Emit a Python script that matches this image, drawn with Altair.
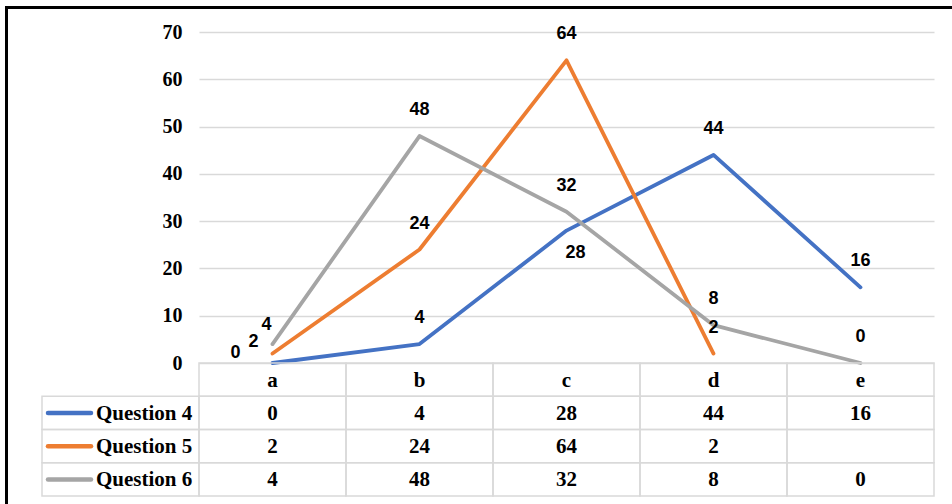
import altair as alt
import pandas as pd

categories = ["a", "b", "c", "d", "e"]
series_names = ["Question 4", "Question 5", "Question 6"]
question4 = [0, 4, 28, 44, 16]
question5 = [2, 24, 64, 2, None]
question6 = [4, 48, 32, 8, 0]
y_ticks = [0, 10, 20, 30, 40, 50, 60, 70]
colors = ["#4472C4", "#ED7D31", "#A5A5A5"]

all_series = [question4, question5, question6]

rows = []
for s, vals in zip(series_names, all_series):
    for c, v in zip(categories, vals):
        rows.append({"series": s, "cat": c, "value": v})
df = pd.DataFrame(rows)

header_row = "hdr"
table_rows = [header_row] + series_names
cells = []
for c in categories:
    cells.append({"row": header_row, "cat": c, "label": c})
for s, vals in zip(series_names, all_series):
    for c, v in zip(categories, vals):
        cells.append({"row": s, "cat": c, "label": "" if v is None else str(v)})
cells_df = pd.DataFrame(cells)
legend_df = pd.DataFrame({"row": series_names, "series": series_names})

color_enc = alt.Color("series:N", scale=alt.Scale(domain=series_names, range=colors), legend=None)

# ---------- line chart part ----------
x_line = alt.X("cat:N", scale=alt.Scale(type="point", domain=categories, padding=0.5), axis=None)
y_line = alt.Y(
    "value:Q",
    scale=alt.Scale(domain=[0, 70], range=[331, 0], nice=False),
    axis=alt.Axis(
        values=y_ticks, title=None, ticks=False, domain=False,
        labelFont="Liberation Serif", labelFontWeight="bold", labelFontSize=20,
        labelColor="black", labelPadding=17,
        gridColor="#d9d9d9", gridWidth=1.5,
    ),
)

base = alt.Chart(df)
lines = base.mark_line(strokeWidth=3.8, strokeCap="round", strokeJoin="round").encode(
    x=x_line, y=y_line, color=color_enc
)

def label_layer(filter_expr, dx, dy):
    return base.transform_filter(filter_expr).mark_text(
        font="Liberation Sans", fontWeight="bold", fontSize=18, color="black",
        dx=dx, dy=dy, baseline="middle", align="center"
    ).encode(x=x_line, y=y_line, text=alt.Text("value:Q", format="d"))

labels_default = label_layer(
    "isValid(datum.value) && datum.cat != 'a' && !(datum.series == 'Question 4' && datum.cat == 'c')",
    0, -26)
lab_q4_a = label_layer("datum.series == 'Question 4' && datum.cat == 'a'", -37, -10)
lab_q5_a = label_layer("datum.series == 'Question 5' && datum.cat == 'a'", -19, -12)
lab_q6_a = label_layer("datum.series == 'Question 6' && datum.cat == 'a'", -6, -19)
lab_q4_c = label_layer("datum.series == 'Question 4' && datum.cat == 'c'", 9, 22)

lines_part = alt.layer(lines, labels_default, lab_q4_a, lab_q5_a, lab_q6_a, lab_q4_c)

# ---------- data table part ----------
x_tab = alt.X("cat:N", scale=alt.Scale(type="band", domain=categories, paddingInner=0, paddingOuter=0), axis=None)
y_tab_scale = alt.Scale(type="band", domain=table_rows, range=[331, 464], paddingInner=0, paddingOuter=0)
y_tab = alt.Y("row:N", scale=y_tab_scale, axis=None)
y_tab_c = alt.Y("row:N", scale=y_tab_scale, axis=None, bandPosition=0.5)

cell_rects = alt.Chart(cells_df).mark_rect(fill="white", fillOpacity=0, stroke="#d9d9d9", strokeWidth=1.5).encode(
    x=x_tab, y=y_tab
)
cell_text = alt.Chart(cells_df).mark_text(
    font="Liberation Serif", fontWeight="bold", fontSize=21, color="black", baseline="middle", dy=1
).encode(x=x_tab, y=y_tab_c, text="label:N")

legend_rects = alt.Chart(legend_df).mark_rect(fill="white", fillOpacity=0, stroke="#d9d9d9", strokeWidth=1.5).encode(
    x=alt.value(-157), x2=alt.value(0), y=y_tab
)
legend_lines = alt.Chart(legend_df).mark_rule(strokeWidth=4.5, strokeCap="round").encode(
    x=alt.value(-151), x2=alt.value(-108), y=y_tab_c, color=color_enc
)
legend_text = alt.Chart(legend_df).mark_text(
    font="Liberation Serif", fontWeight="bold", fontSize=21, color="black", align="left", baseline="middle", dy=1
).encode(x=alt.value(-103), y=y_tab_c, text="series:N")

table_part = alt.layer(cell_rects, legend_rects, legend_lines, legend_text, cell_text)

# ---------- frame ----------
frame_df = pd.DataFrame({"k": [0]})
top_border = alt.Chart(frame_df).mark_rule(color="black", strokeWidth=3).encode(
    x=alt.value(-194), x2=alt.value(753), y=alt.value(-24.5)
)
left_border = alt.Chart(frame_df).mark_rule(color="black", strokeWidth=3).encode(
    x=alt.value(-192.5), y=alt.value(-26), y2=alt.value(472)
)

chart = alt.layer(lines_part, table_part, top_border, left_border).resolve_scale(
    x="independent", y="independent"
).properties(
    width=735, height=464,
    autosize=alt.AutoSizeParams(type="none"),
    padding={"left": 199, "top": 32, "right": 18, "bottom": 8},
    background="white",
).configure_view(stroke=None)

chart.save("out.html", embed_options={"renderer": "svg", "actions": False})
